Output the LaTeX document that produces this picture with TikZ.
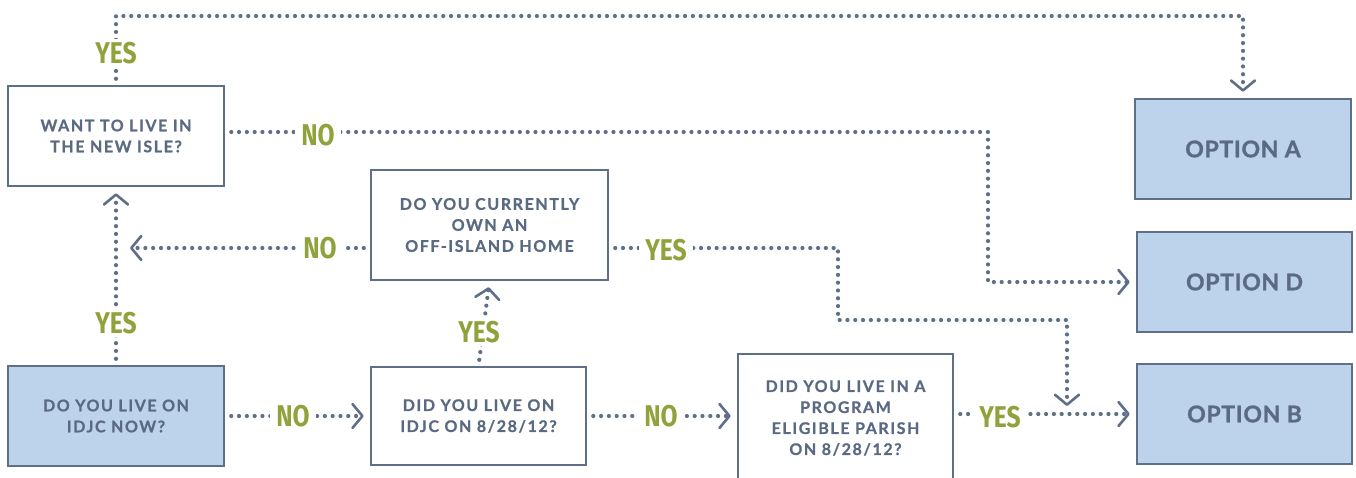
\documentclass[tikz,border=0pt]{standalone}
\usepackage{fontspec}
\setmainfont{Lato}
\newfontfamily\boxfont[LetterSpace=10,FakeBold=0.9]{Lato}
\newfontfamily\optfont[LetterSpace=3,FakeBold=1.2]{Lato}
\newfontfamily\lblfont[FakeStretch=0.82]{Fira Sans}
\usetikzlibrary{arrows.meta}
\definecolor{edge}{HTML}{5F6F87}
\definecolor{txt}{HTML}{5A6A82}
\definecolor{lblue}{HTML}{BDD3EC}
\definecolor{grn}{HTML}{8FA23B}
\begin{document}
\begin{tikzpicture}[x=1pt,y=-1pt,
  box/.style={draw=edge, line width=2.5pt, minimum width=216pt, minimum height=100pt, align=center, text=txt, font=\boxfont\bfseries\fontsize{16}{21}\selectfont, inner sep=0pt},
  fbox/.style={box, fill=lblue},
  opt/.style={fbox, font=\optfont\bfseries\fontsize{23}{26}\selectfont},
  conn/.style={draw=edge, line width=4.2pt, line cap=round, dash pattern=on 0pt off 7.8pt, shorten <=6pt},
  arr/.style={conn, -{Straight Barb[round,length=10pt,width=24pt,line width=2.6pt]}, shorten >=6pt},
  lbl/.style={fill=white, text=grn, font=\lblfont\bfseries\fontsize{30}{30}\selectfont, inner xsep=6pt, inner ysep=3pt}
]
\useasboundingbox (0,0) rectangle (1356,477);
% nodes
\node[box] (want) at (116,136) {WANT TO LIVE IN\\THE NEW ISLE?};
\node[fbox] (live) at (116,416) {DO YOU LIVE ON\\IDJC NOW?};
\node[box, minimum width=237pt, minimum height=110pt] (own) at (489.5,225) {DO YOU CURRENTLY\\OWN AN\\OFF-ISLAND HOME};
\node[box, minimum width=215pt, minimum height=98pt] (idjc) at (478.5,416) {DID YOU LIVE ON\\IDJC ON 8/28/12?};
\node[box, minimum width=215pt, minimum height=128pt] (prog) at (845.5,418) {DID YOU LIVE IN A\\PROGRAM\\ELIGIBLE PARISH\\ON 8/28/12?};
\node[opt] (A) at (1243,149) {OPTION A};
\node[opt, minimum width=215pt] (D) at (1244.5,282) {OPTION D};
\node[opt, minimum width=215pt] (B) at (1244.5,414) {OPTION B};
% helper coordinates
\coordinate (top) at (600,16);
\coordinate (c1) at (988,200);
\coordinate (m1) at (116,248);
\coordinate (c2) at (838,320);
\coordinate (c3) at (1067,415);
% connectors
\draw[arr] (want.north) |- (top) -| (A.north);
\draw[arr] ([yshift=4pt]want.east) -| (c1) |- (D.west);
\draw[arr] (live.north) -- (want.south);
\draw[arr, shorten >=14pt] ([yshift=-23pt]own.west) -- (m1);
\draw[arr, shorten >=9pt] ([yshift=-23pt]own.east) -| (c2) -| (c3);
\draw[arr] (live.east) -- (idjc.west);
\draw[arr] (idjc.north) -- (own.south);
\draw[arr] (idjc.east) -- (idjc.east -| prog.west);
\draw[arr] (prog.east |- B.west) -- (B.west);
% labels
\node[lbl] (l1) at (116,53) {YES};
\node[lbl] (l2) at (318,135) {NO};
\node[lbl] (l3) at (116,323) {YES};
\node[lbl] (l4) at (320,248) {NO};
\node[lbl] (l5) at (666,250) {YES};
\node[lbl] (l6) at (293,416) {NO};
\node[lbl] (l7) at (479,332) {YES};
\node[lbl] (l8) at (661,416) {NO};
\node[lbl] (l9) at (1000,417) {YES};
\end{tikzpicture}
\end{document}
